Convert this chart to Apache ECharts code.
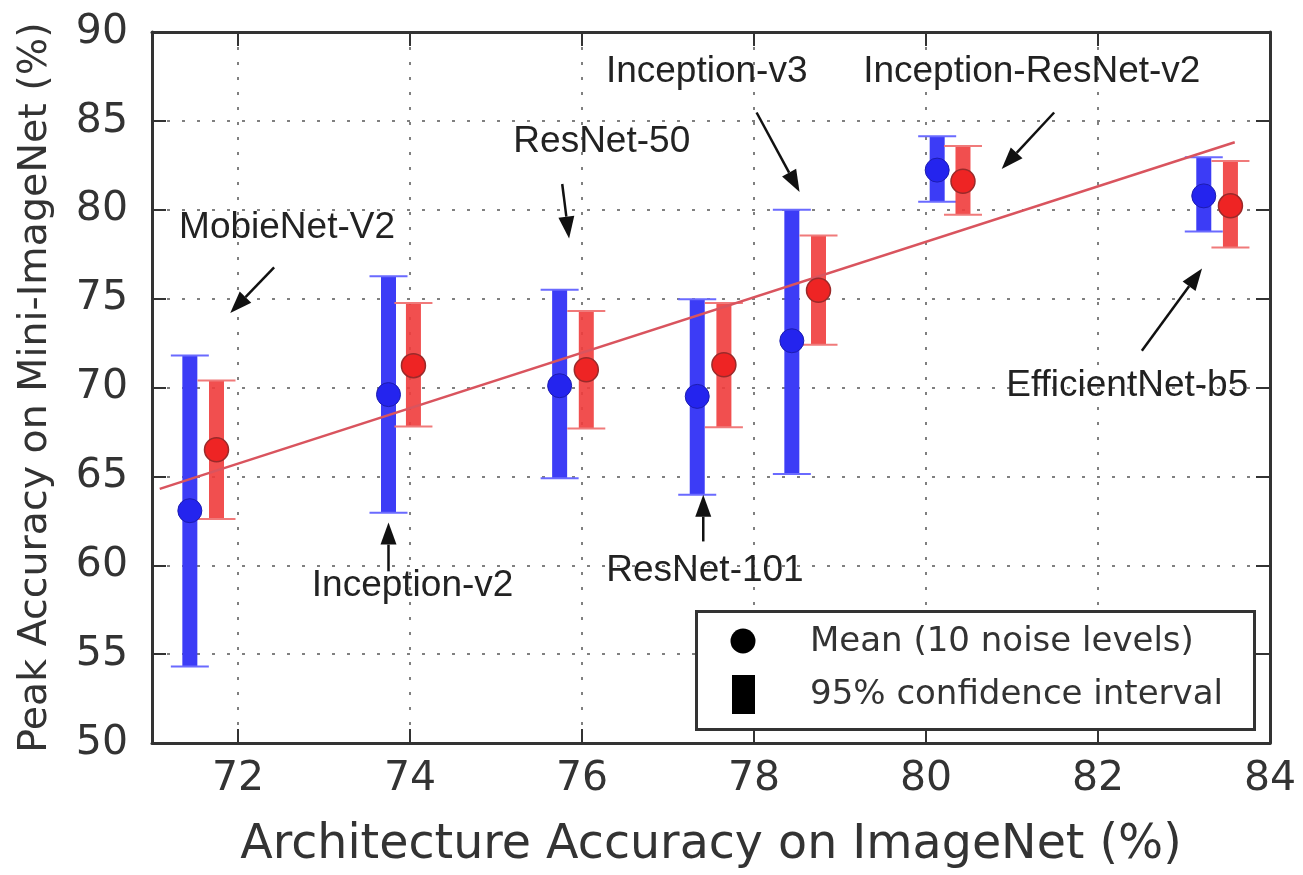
<!DOCTYPE html>
<html>
<head>
<meta charset="utf-8">
<script src="https://cdn.jsdelivr.net/npm/echarts/dist/echarts.min.js"></script>
<style>
  html, body { margin: 0; padding: 0; background: #fff; }
  #chart { width: 1303px; height: 875px; }
</style>
</head>
<body>
<div id="chart"></div>
<script>
// ---- data ----
const models = ['MobieNet-V2', 'Inception-v2', 'ResNet-50', 'ResNet-101', 'Inception-v3', 'Inception-ResNet-v2', 'EfficientNet-b5'];

// blue: x position, mean and 95% CI
const blueX    = [71.44, 73.75, 75.74, 77.34, 78.44, 80.13, 83.23];
const blueMean = [63.07, 69.60, 70.10, 69.50, 72.63, 82.23, 80.78];
const blueLow  = [54.30, 62.96, 64.90, 63.97, 65.14, 80.45, 78.77];
const blueHigh = [71.80, 76.26, 75.50, 74.97, 80.00, 84.13, 82.96];

// red: x position, mean and 95% CI
const redX    = [71.75, 74.04, 76.05, 77.65, 78.75, 80.43, 83.54];
const redMean = [66.50, 71.23, 71.00, 71.28, 75.47, 81.60, 80.22];
const redLow  = [62.60, 67.80, 67.70, 67.77, 72.40, 79.72, 77.88];
const redHigh = [70.40, 74.75, 74.30, 74.75, 78.55, 83.58, 82.74];

// regression line end points
const fitX = [71.09, 83.59];
const fitY = [64.30, 83.80];

// annotations: label position, arrow start, arrow tip (data units)
const annoTextX  = [72.57, 74.03, 76.23, 77.43, 77.45, 81.23, 82.34];
const annoTextY  = [79.00, 58.83, 83.80, 59.66, 87.77, 87.77, 70.10];
const arrowFromX = [72.42, 73.75, 75.77, 77.41, 78.03, 81.49, 82.51];
const arrowFromY = [76.76, 59.66, 81.45, 61.34, 85.47, 85.47, 72.07];
const arrowToX   = [71.91, 73.75, 75.85, 77.41, 78.53, 80.88, 83.21];
const arrowToY   = [74.19, 62.40, 78.38, 63.97, 81.00, 82.29, 76.70];

const xTicks = { min: 71, max: 84 };
const yTicks = { min: 50, max: 90, step: 5 };

const legendLabels = ['Mean (10 noise levels)', '95% confidence interval'];
const xName = 'Architecture Accuracy on ImageNet (%)';
const yName = 'Peak Accuracy on Mini-ImageNet (%)';

// ---- build ----
const FONT = 'DejaVu Sans';
const ANNO_FONT = 'Liberation Sans';
const frameColor = '#333';

function errData(xs, lo, hi) { return xs.map((x, i) => [x, lo[i], hi[i]]); }
function ptData(xs, ys) { return xs.map((x, i) => [x, ys[i]]); }

function errRender(barColor, capColor) {
  return function (params, api) {
    const x = api.value(0);
    const top = api.coord([x, api.value(2)]);
    const bot = api.coord([x, api.value(1)]);
    const bw = 15, cw = 38;
    return {
      type: 'group',
      children: [
        { type: 'rect', shape: { x: top[0] - bw / 2, y: top[1], width: bw, height: bot[1] - top[1] },
          style: { fill: barColor } },
        { type: 'line', shape: { x1: top[0] - cw / 2, y1: top[1], x2: top[0] + cw / 2, y2: top[1] },
          style: { stroke: capColor, lineWidth: 2 } },
        { type: 'line', shape: { x1: bot[0] - cw / 2, y1: bot[1], x2: bot[0] + cw / 2, y2: bot[1] },
          style: { stroke: capColor, lineWidth: 2 } }
      ]
    };
  };
}

const annoData = models.map((m, i) => ({
  name: m,
  value: [annoTextX[i], annoTextY[i], arrowFromX[i], arrowFromY[i], arrowToX[i], arrowToY[i]]
}));

function annoRender(params, api) {
  const t = api.coord([api.value(0), api.value(1)]);
  const a = api.coord([api.value(2), api.value(3)]);
  const b = api.coord([api.value(4), api.value(5)]);
  const dx = b[0] - a[0], dy = b[1] - a[1];
  const len = Math.sqrt(dx * dx + dy * dy);
  const ux = dx / len, uy = dy / len;
  const hl = 22, hw = 8;
  const bx = b[0] - ux * hl, by = b[1] - uy * hl;
  const px = -uy, py = ux;
  return {
    type: 'group',
    children: [
      { type: 'line', shape: { x1: a[0], y1: a[1], x2: bx, y2: by },
        style: { stroke: '#111', lineWidth: 2.5 } },
      { type: 'polygon', shape: { points: [[b[0], b[1]], [bx + px * hw, by + py * hw], [bx - px * hw, by - py * hw]] },
        style: { fill: '#111' } },
      { type: 'text', x: t[0], y: t[1],
        style: { text: models[params.dataIndex], fontFamily: ANNO_FONT, fontSize: 37, fill: '#222',
                 align: 'center', verticalAlign: 'middle' } }
    ]
  };
}

const axisLine = { show: true, onZero: false, lineStyle: { color: frameColor, width: 3 } };
const axisTick = { show: true, inside: true, length: 14, lineStyle: { color: frameColor, width: 2 } };
const gridLine = { show: true, lineStyle: { color: '#808080', width: 2, type: [3, 12] } };

const chart = echarts.init(document.getElementById('chart'), null, { renderer: 'canvas' });
chart.setOption({
  animation: false,
  backgroundColor: '#fff',
  grid: { left: 152, right: 33, top: 32, bottom: 127, containLabel: false },
  xAxis: [
    { type: 'value', min: xTicks.min, max: xTicks.max, minInterval: 2, maxInterval: 2, splitNumber: 6,
      position: 'bottom', axisLine, axisTick, splitLine: gridLine,
      axisLabel: { margin: 16, fontSize: 41, color: '#333', fontFamily: FONT, showMinLabel: false,
                   formatter: v => (Math.abs(v % 2) < 1e-9 ? String(v) : '') },
      name: xName, nameLocation: 'middle', nameGap: 79,
      nameTextStyle: { fontSize: 47.5, color: '#333', fontFamily: FONT } },
    { type: 'value', min: xTicks.min, max: xTicks.max, minInterval: 2, maxInterval: 2, splitNumber: 6,
      position: 'top', axisLine, axisTick, splitLine: { show: false }, axisLabel: { show: false } }
  ],
  yAxis: [
    { type: 'value', min: yTicks.min, max: yTicks.max, interval: yTicks.step, position: 'left',
      axisLine, axisTick, splitLine: gridLine,
      axisLabel: { margin: 24, fontSize: 41, color: '#333', fontFamily: FONT },
      name: yName, nameLocation: 'middle', nameGap: 96,
      nameTextStyle: { fontSize: 39.5, color: '#333', fontFamily: FONT } },
    { type: 'value', min: yTicks.min, max: yTicks.max, interval: yTicks.step, position: 'right',
      axisLine, axisTick, splitLine: { show: false }, axisLabel: { show: false } }
  ],
  series: [
    { type: 'custom', name: 'blueCI', renderItem: errRender('#3c3cf6', '#6a6aff'),
      data: errData(blueX, blueLow, blueHigh), z: 2, clip: false },
    { type: 'custom', name: 'redCI', renderItem: errRender('rgba(240,60,60,0.9)', '#f07a7a'),
      data: errData(redX, redLow, redHigh), z: 3, clip: false },
    { type: 'line', name: 'fit', data: ptData(fitX, fitY), symbol: 'none', z: 4,
      lineStyle: { color: '#d9545e', width: 2.5 } },
    { type: 'scatter', name: 'blueMean', data: ptData(blueX, blueMean), symbolSize: 24, z: 5,
      itemStyle: { color: '#2424ee', borderColor: '#1c1cb0', borderWidth: 1, opacity: 1 } },
    { type: 'scatter', name: 'redMean', data: ptData(redX, redMean), symbolSize: 24, z: 6,
      itemStyle: { color: '#ee2424', borderColor: '#9a2a2a', borderWidth: 1.5, opacity: 1 } },
    { type: 'custom', name: 'annotations', renderItem: annoRender, data: annoData, z: 7, clip: false,
      encode: { x: 0, y: 1 } }
  ],
  graphic: [
    { type: 'rect', left: 695, top: 610, z: 100,
      shape: { width: 558, height: 118 }, style: { fill: '#fff', stroke: frameColor, lineWidth: 3 } },
    { type: 'circle', x: 743, y: 641, z: 101, shape: { cx: 0, cy: 0, r: 12.5 }, style: { fill: '#000' } },
    { type: 'rect', x: 732, y: 675, z: 101, shape: { width: 23, height: 39 }, style: { fill: '#000' } },
    { type: 'text', x: 810, y: 642, z: 101,
      style: { text: legendLabels[0], fontFamily: FONT, fontSize: 34, fill: '#333', verticalAlign: 'middle' } },
    { type: 'text', x: 810, y: 695, z: 101,
      style: { text: legendLabels[1], fontFamily: FONT, fontSize: 34, fill: '#333', verticalAlign: 'middle' } }
  ]
});
</script>
</body>
</html>
